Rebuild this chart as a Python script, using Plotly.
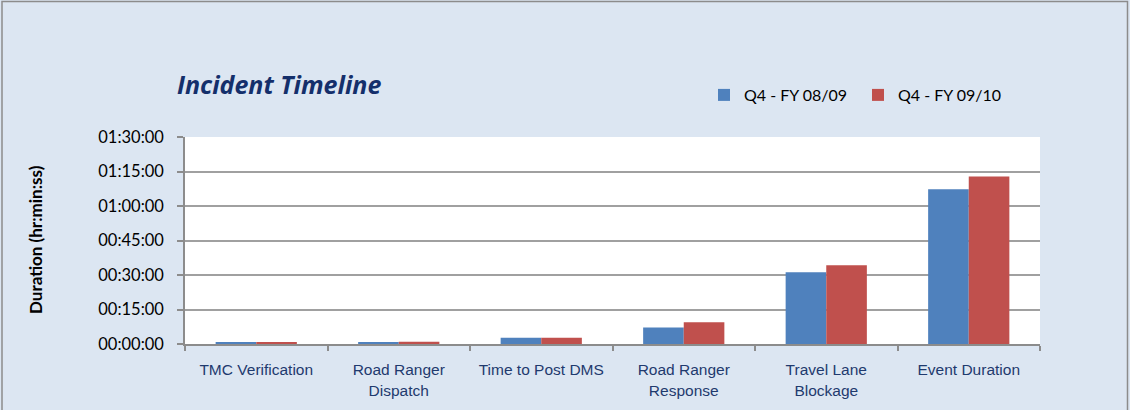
import plotly.graph_objects as go

categories = ["TMC Verification", "Road Ranger<br>Dispatch", "Time to Post DMS",
              "Road Ranger<br>Response", "Travel Lane<br>Blockage", "Event Duration"]
series_names = ["Q4 - FY 08/09", "Q4 - FY 09/10"]
# durations in minutes
q4_0809 = [0.6, 0.6, 2.7, 7.2, 31.2, 67.3]
q4_0910 = [0.6, 1.0, 2.7, 9.5, 34.2, 72.8]
y_tick_vals = [0, 15, 30, 45, 60, 75, 90]
y_tick_text = ["00:00:00", "00:15:00", "00:30:00", "00:45:00", "01:00:00", "01:15:00", "01:30:00"]

colors = ["#4F81BD", "#C0504D"]
W, H = 1130, 410
L, R, T, B = 185, 1040, 137, 344

fig = go.Figure()
for name, vals, c in zip(series_names, [q4_0809, q4_0910], colors):
    fig.add_trace(go.Bar(x=categories, y=vals, name=name, marker_color=c,
                         marker_line_width=0))

def px_x(px):
    return (px - L) / (R - L)

def px_y(py):
    return (B - py) / (B - T)

fig.update_layout(
    width=W, height=H,
    margin=dict(l=L, r=W - R, t=T, b=H - B, pad=0),
    paper_bgcolor="#DCE6F2",
    plot_bgcolor="#FFFFFF",
    barmode="group",
    bargap=0.43,
    bargroupgap=0,
    title=dict(text="Incident Timeline", x=177 / W, xanchor="left",
               y=1 - 85 / H, yanchor="middle", xref="container", yref="container",
               font=dict(family="Open Sans", size=25, color="#142F6B", style="italic", weight="bold")),
    legend=dict(orientation="h", xref="container", yref="container",
                x=704 / W, xanchor="left", y=1 - 95 / H, yanchor="middle",
                bgcolor="rgba(0,0,0,0)", font=dict(family="Lato", size=16, color="#000000"),
                itemwidth=30, entrywidth=109),
    showlegend=True,
    font=dict(family="Lato"),
)
fig.update_xaxes(
    showline=True, linecolor="#8C8C8C", linewidth=1.5,
    ticks="outside", tickson="boundaries", ticklen=5, tickcolor="#8C8C8C", tickwidth=1.5,
    tickfont=dict(family="Liberation Sans", size=15.5, color="#1F3A6E"),
    ticklabelstandoff=11, showgrid=False,
)
fig.update_yaxes(
    range=[0, 90], tickvals=y_tick_vals, ticktext=y_tick_text,
    showline=True, linecolor="#8C8C8C", linewidth=1.5,
    ticks="outside", ticklen=6, tickcolor="#8C8C8C", tickwidth=1.5,
    tickfont=dict(family="Lato", size=16.5, color="#000000"),
    showgrid=True, gridcolor="#A0A0A0", gridwidth=1.5, zeroline=False,
    ticklabelstandoff=10,
)
fig.add_annotation(text="<b>Duration (hr:min:ss)</b>", textangle=-90,
                   xref="paper", yref="paper", x=px_x(35), y=px_y(240),
                   xanchor="center", yanchor="middle", showarrow=False,
                   font=dict(family="Lato", size=17, color="#000000"))
fig.add_shape(type="rect", xref="paper", yref="paper",
              x0=px_x(2), x1=px_x(1127.5), y0=px_y(430), y1=px_y(1.5),
              line=dict(color="#8C8C8C", width=1.5), fillcolor="rgba(0,0,0,0)", layer="below")

fig.write_html("out.html", config={"displayModeBar": False},
               post_script="document.body.style.margin='0';")
